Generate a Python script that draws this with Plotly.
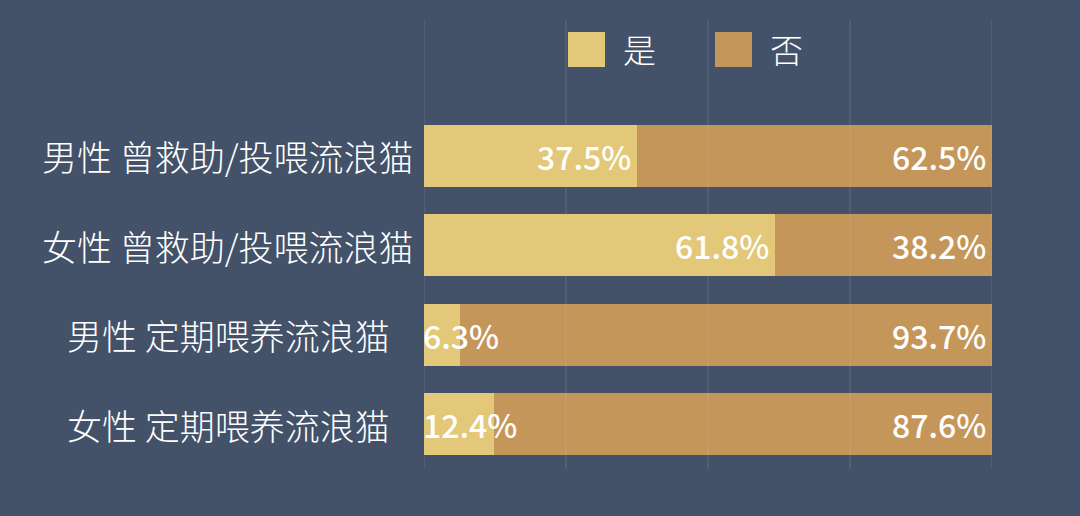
import plotly.graph_objects as go

categories = ["男性 曾救助/投喂流浪猫", "女性 曾救助/投喂流浪猫", "男性 定期喂养流浪猫", "女性 定期喂养流浪猫"]
yes_vals = [37.5, 61.8, 6.3, 12.4]
no_vals = [62.5, 38.2, 93.7, 87.6]
series_names = ["是", "否"]
series_colors = ["#E2C878", "#C4965A"]
grid_ticks = [0, 25, 50, 75, 100]

BG = "#435269"
FONT = "Noto Sans CJK SC"
LABEL_FONT = dict(family=FONT, size=32, color="white", weight=500)

fig = go.Figure()
for name, vals, col in zip(series_names, [yes_vals, no_vals], series_colors):
    fig.add_trace(go.Bar(
        y=categories, x=vals, name=name, orientation="h",
        marker=dict(color=col, line=dict(width=0)),
        showlegend=False, hoverinfo="x+name",
    ))

annotations = []
# category labels, centred in the left margin
for cat in categories:
    annotations.append(dict(x=(228 - 424) / 568, y=cat, xref="paper", yref="y", text=cat,
                            xanchor="center", yanchor="middle", showarrow=False,
                            font=dict(family=FONT, size=35, color="white", weight=300)))
# labels for "是"
for cat, v in zip(categories, yes_vals):
    if v >= 20:
        annotations.append(dict(x=v, y=cat, xref="x", yref="y", text=f"{v}%",
                                xanchor="right", xshift=-4, showarrow=False, font=LABEL_FONT))
    else:
        annotations.append(dict(x=0, y=cat, xref="x", yref="y", text=f"{v}%",
                                xanchor="left", xshift=-3, showarrow=False, font=LABEL_FONT))
# labels for "否"
for cat, y_, n in zip(categories, yes_vals, no_vals):
    annotations.append(dict(x=y_ + n, y=cat, xref="x", yref="y", text=f"{n}%",
                            xanchor="right", xshift=-4, showarrow=False, font=LABEL_FONT))

shapes = []
# grid lines (drawn above bars, faint)
for t in grid_ticks:
    shapes.append(dict(type="line", xref="x", yref="paper", x0=t, x1=t, y0=0, y1=1.254,
                       line=dict(color="rgba(200,205,215,0.22)", width=1), layer="above"))

# manual legend with large squares
legend_x = [568, 715]
for name, col, lx in zip(series_names, series_colors, legend_x):
    shapes.append(dict(type="rect", xref="paper", yref="paper",
                       x0=(lx - 424) / 568, x1=(lx + 37 - 424) / 568,
                       y0=(469 - 67) / 358, y1=(469 - 32) / 358,
                       fillcolor=col, line=dict(width=0), layer="above"))
    annotations.append(dict(x=(lx + 53 - 424) / 568, y=(469 - 49) / 358, xref="paper", yref="paper",
                            text=name, xanchor="left", yanchor="middle", showarrow=False,
                            font=dict(family=FONT, size=33, color="white", weight=300)))

fig.update_layout(
    barmode="stack",
    bargap=0.305,
    width=1080, height=516,
    paper_bgcolor=BG, plot_bgcolor=BG,
    margin=dict(l=424, r=88, t=111, b=47),
    font=dict(family=FONT, color="white"),
    xaxis=dict(range=[0, 100], showgrid=False, zeroline=False, showticklabels=False,
               fixedrange=True),
    yaxis=dict(autorange="reversed", showgrid=False, zeroline=False, showticklabels=False,
               fixedrange=True),
    annotations=annotations,
    shapes=shapes,
    showlegend=False,
)

fig.write_html("out.html", config={"displayModeBar": False},
               post_script="document.body.style.margin='0';document.body.style.background='" + BG + "';")
